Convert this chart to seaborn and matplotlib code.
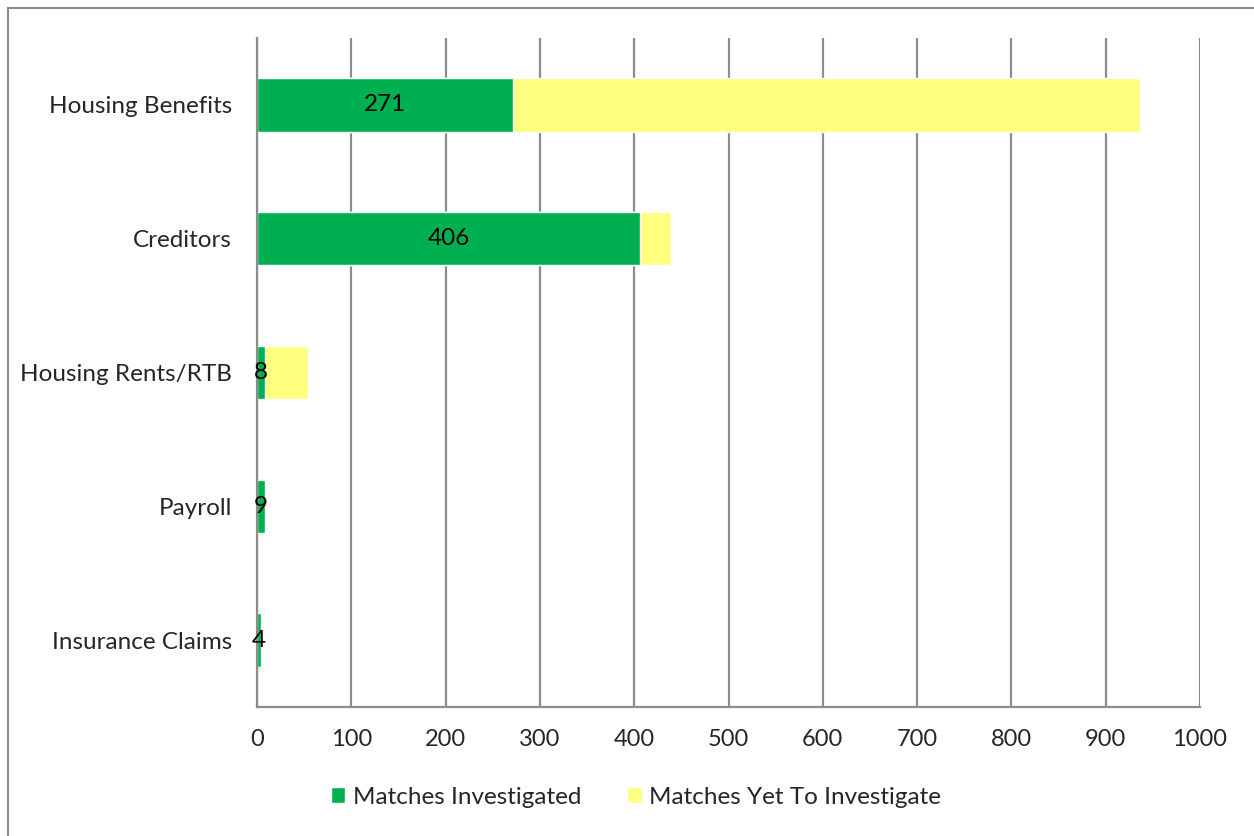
import matplotlib
matplotlib.use("Agg")
import matplotlib.pyplot as plt
import seaborn as sns
import pandas as pd
from matplotlib.patches import Patch, Rectangle

# Data
categorias = ["Housing Benefits", "Creditors", "Housing Rents/RTB", "Payroll", "Insurance Claims"]
investigadas = [271, 406, 8, 9, 4]
pendientes = [665, 33, 46, 0, 0]

VERDE = "#00B050"
AMARILLO = "#FFFF80"
GRIS = "#8C8C8C"

df = pd.DataFrame({
    "categoria": categorias,
    "investigadas": investigadas,
    "total": [a + b for a, b in zip(investigadas, pendientes)],
})

sns.set_style("white")
plt.rcParams["font.family"] = ["Lato", "DejaVu Sans"]

fig = plt.figure(figsize=(12.54, 8.36), dpi=100)
ax = fig.add_axes([257 / 1254, 1 - 707 / 836, (1200 - 257) / 1254, (707 - 38) / 836])

sns.barplot(data=df, x="total", y="categoria", orient="h", color=AMARILLO,
            width=0.4, saturation=1, ax=ax)
sns.barplot(data=df, x="investigadas", y="categoria", orient="h", color=VERDE,
            width=0.4, saturation=1, ax=ax)

# etiquetas dentro de la parte verde
for i, v in enumerate(investigadas):
    ax.text(v / 2, i, str(v), ha="center", va="center", fontsize=17.5, color="black")

ax.set_xlim(0, 1000)
ax.set_xticks(range(0, 1001, 100))
ax.set_ylim(4.5, -0.5)
ax.set_xlabel("")
ax.set_ylabel("")

ax.grid(axis="x", color=GRIS, linewidth=1.6)
ax.set_axisbelow(True)

for lado in ["top", "right"]:
    ax.spines[lado].set_visible(False)
for lado in ["left", "bottom"]:
    ax.spines[lado].set_color(GRIS)
    ax.spines[lado].set_linewidth(1.6)

ax.tick_params(axis="y", which="major", length=0, pad=18, labelsize=17.5)
ax.set_yticks([-0.5, 0.5, 1.5, 2.5, 3.5, 4.5], minor=True)
ax.tick_params(axis="y", which="minor", length=8, width=1.6, color=GRIS, direction="out")
ax.tick_params(axis="x", length=7, width=1.6, color=GRIS, direction="out", labelsize=17, pad=9)

handles = [Patch(facecolor=VERDE, label="Matches Investigated"),
           Patch(facecolor=AMARILLO, label="Matches Yet To Investigate")]
fig.legend(handles=handles, loc="center", bbox_to_anchor=(636 / 1254, 1 - 797 / 836),
           ncol=2, frameon=False, fontsize=17.5, handlelength=0.6, handleheight=0.6,
           handletextpad=0.3, columnspacing=1.9)

# marco exterior
fig.patches.append(Rectangle((8 / 1254, -0.01), 1.1, 1 - 8 / 836 + 0.01, transform=fig.transFigure,
                             fill=False, edgecolor=GRIS, linewidth=1.5))

fig.savefig("out.png", dpi=100)
